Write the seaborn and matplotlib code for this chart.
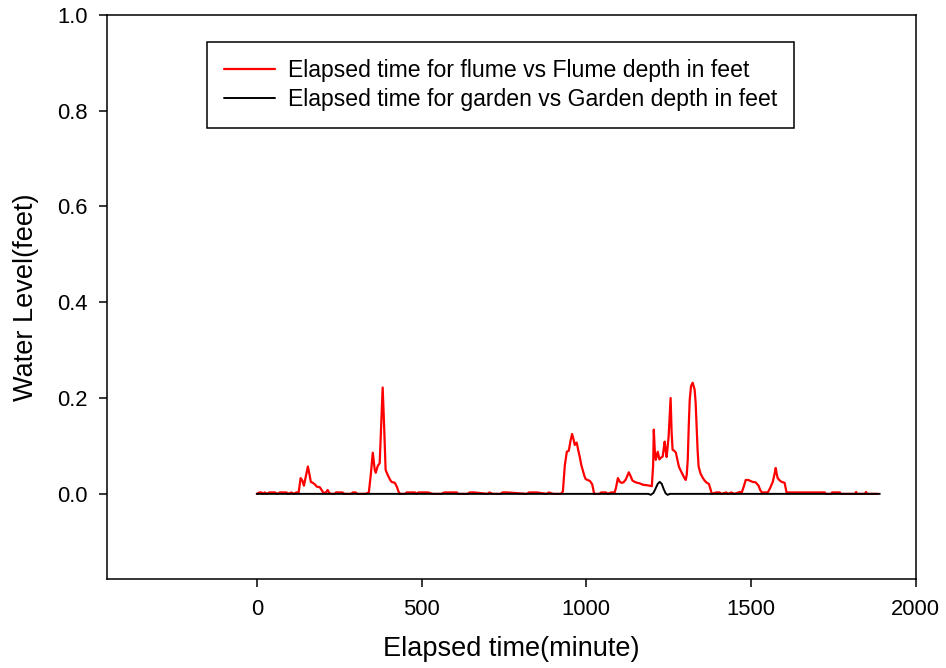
#!/usr/bin/env python3
"""Flume vs garden water level over elapsed time."""
import matplotlib

matplotlib.use("Agg")
import matplotlib.pyplot as plt  # noqa: E402
import pandas as pd  # noqa: E402
import seaborn as sns  # noqa: E402

# Flume depth (feet), keyed by elapsed minutes.
flume_time = [
    0, 8, 14, 18, 24, 30, 38, 55, 62, 70, 90, 95, 105, 112, 120, 127,
    133, 138, 143, 150, 155, 160, 164, 170, 176, 182, 191, 197, 202, 210,
    215, 220, 226, 236, 240, 260, 265, 285, 292, 300, 305, 330, 340, 346,
    352, 358, 361, 367, 373, 378, 382, 386, 391, 397, 404, 409, 419, 425,
    430, 434, 450, 455, 480, 485, 490, 520, 534, 560, 570, 607, 612, 640,
    646, 660, 700, 706, 716, 740, 746, 760, 820, 826, 850, 880, 886, 900,
    923, 929, 935, 941, 947, 952, 957, 962, 965, 968, 971, 976, 980, 985,
    989, 994, 998, 1004, 1011, 1018, 1021, 1024, 1040, 1045, 1060, 1065,
    1075, 1086, 1090, 1096, 1102, 1107, 1113, 1120, 1129, 1134, 1140,
    1147, 1155, 1162, 1172, 1184, 1193, 1199, 1203, 1205, 1208, 1211,
    1214, 1217, 1222, 1226, 1232, 1238, 1241, 1244, 1250, 1256, 1259,
    1262, 1267, 1272, 1277, 1281, 1287, 1293, 1298, 1302, 1305, 1308,
    1311, 1314, 1318, 1323, 1329, 1332, 1335, 1338, 1341, 1347, 1354,
    1360, 1366, 1372, 1377, 1381, 1395, 1405, 1410, 1425, 1430, 1440,
    1450, 1466, 1472, 1478, 1484, 1492, 1498, 1505, 1514, 1519, 1523,
    1528, 1533, 1551, 1558, 1566, 1571, 1575, 1578, 1581, 1587, 1593,
    1598, 1602, 1606, 1608, 1724, 1727, 1744, 1746, 1770, 1772, 1816,
    1819, 1822, 1846, 1849, 1852, 1885,
]
flume_depth = [
    0, 0.003, 0.003, 0, 0.003, 0, 0.003, 0.003, 0, 0.003, 0.003, 0, 0.003,
    0, 0.003, 0.003, 0.033, 0.028, 0.017, 0.040, 0.057, 0.040, 0.025,
    0.023, 0.020, 0.015, 0.014, 0.008, 0.002, 0.003, 0.008, 0.002, 0, 0,
    0.003, 0.003, 0, 0, 0.003, 0.003, 0, 0, 0.003, 0.040, 0.086, 0.050,
    0.044, 0.058, 0.064, 0.150, 0.222, 0.150, 0.050, 0.040, 0.030, 0.025,
    0.023, 0.015, 0.005, 0, 0, 0.003, 0.003, 0, 0.003, 0.003, 0, 0, 0.003,
    0.003, 0, 0, 0.003, 0.003, 0, 0.003, 0, 0, 0.003, 0.003, 0, 0.003,
    0.003, 0, 0.003, 0, 0, 0.005, 0.060, 0.088, 0.090, 0.110, 0.125,
    0.112, 0.102, 0.105, 0.107, 0.090, 0.078, 0.060, 0.050, 0.038, 0.031,
    0.029, 0.027, 0.020, 0.010, 0, 0, 0.003, 0.003, 0, 0.003, 0.003,
    0.012, 0.033, 0.025, 0.023, 0.024, 0.030, 0.045, 0.038, 0.028, 0.025,
    0.023, 0.022, 0.019, 0.018, 0.017, 0.016, 0.060, 0.134, 0.090, 0.071,
    0.080, 0.088, 0.072, 0.075, 0.078, 0.109, 0.090, 0.077, 0.120, 0.200,
    0.130, 0.092, 0.090, 0.086, 0.070, 0.057, 0.048, 0.040, 0.033, 0.029,
    0.040, 0.071, 0.140, 0.196, 0.225, 0.232, 0.217, 0.190, 0.140, 0.090,
    0.057, 0.042, 0.033, 0.027, 0.023, 0.021, 0.010, 0, 0.003, 0.003, 0,
    0.003, 0, 0.003, 0, 0.004, 0.003, 0.015, 0.029, 0.029, 0.027, 0.025,
    0.024, 0.020, 0.017, 0.008, 0.003, 0.003, 0.012, 0.025, 0.040, 0.054,
    0.042, 0.033, 0.028, 0.025, 0.024, 0.023, 0.010, 0.003, 0.003, 0, 0,
    0.003, 0.003, 0, 0, 0.004, 0, 0, 0.004, 0, 0,
]

# Garden depth (feet): flat except one small bump near 1220 minutes.
garden_time = [0, 1188, 1196, 1204, 1211, 1217, 1223, 1229, 1235, 1241,
               1247, 1254, 1891]
garden_depth = [0, 0, -0.002, 0.002, 0.012, 0.021, 0.025, 0.021, 0.010,
                0.001, -0.002, 0, 0]

FLUME_LABEL = "Elapsed time for flume vs Flume depth in feet"
GARDEN_LABEL = "Elapsed time for garden vs Garden depth in feet"

sns.set_style("ticks")
plt.rcParams["font.family"] = ["Liberation Sans", "DejaVu Sans"]
plt.rcParams["text.color"] = "black"
plt.rcParams["axes.labelcolor"] = "black"

flume = pd.DataFrame({"time": flume_time, "depth": flume_depth})
garden = pd.DataFrame({"time": garden_time, "depth": garden_depth})

fig = plt.figure(figsize=(9.46, 6.68), dpi=100)
ax = fig.add_axes([0.113, 0.133, 0.855, 0.845])

sns.lineplot(data=flume, x="time", y="depth", ax=ax, color="#ff0000",
             linewidth=1.6, sort=False, estimator=None, label=FLUME_LABEL)
sns.lineplot(data=garden, x="time", y="depth", ax=ax, color="black",
             linewidth=1.4, sort=False, estimator=None, label=GARDEN_LABEL)

ax.set_xlim(-455, 2000)
ax.set_ylim(-0.178, 1.0)
ax.set_xticks([0, 500, 1000, 1500, 2000])
ax.set_yticks([0.0, 0.2, 0.4, 0.6, 0.8, 1.0])
ax.set_yticklabels(["0.0", "0.2", "0.4", "0.6", "0.8", "1.0"])
ax.tick_params(direction="out", length=6, width=1.1, labelsize=15.8,
               colors="black", pad=8)
for side in ["top", "right", "bottom", "left"]:
    ax.spines[side].set_visible(True)
    ax.spines[side].set_linewidth(1.1)
    ax.spines[side].set_color("black")

ax.set_xlabel("Elapsed time(minute)", fontsize=19.5, labelpad=12)
ax.set_ylabel("Water Level(feet)", fontsize=19.5, labelpad=13)

leg = ax.legend(loc="upper left", bbox_to_anchor=(0.124, 0.951),
                fontsize=16.6, frameon=True, fancybox=False,
                handlelength=2.2, handletextpad=0.6, borderpad=0.72,
                borderaxespad=0, labelspacing=0.26)
leg.get_frame().set_edgecolor("black")
leg.get_frame().set_linewidth(1.1)
leg.get_frame().set_alpha(1)
for text in leg.get_texts():
    text.set_color("black")

fig.savefig("out.png", dpi=100)
plt.close(fig)
